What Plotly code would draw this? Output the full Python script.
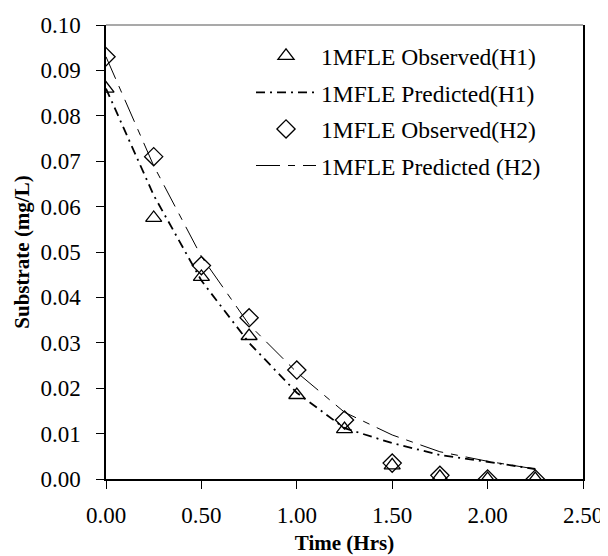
import plotly.graph_objects as go

time_obs = [0.0, 0.25, 0.5, 0.75, 1.0, 1.25, 1.5, 1.75, 2.0, 2.25]
obs_h1 = [0.086, 0.0575, 0.0445, 0.0315, 0.0185, 0.011, 0.003, 0.0005, 0.0, 0.0]
obs_h2 = [0.093, 0.071, 0.047, 0.0355, 0.024, 0.013, 0.0035, 0.0008, 0.0, 0.0]

time_pred = [0.0, 0.25, 0.5, 0.75, 1.0, 1.25, 1.5, 1.75, 2.0, 2.25]
pred_h1 = [0.086, 0.0625, 0.0437, 0.030, 0.019, 0.0112, 0.0079, 0.0053, 0.0038, 0.0022]
pred_h2 = [0.093, 0.069, 0.049, 0.034, 0.0235, 0.0147, 0.0097, 0.006, 0.0039, 0.0022]

x_ticks = [0.0, 0.5, 1.0, 1.5, 2.0, 2.5]
y_ticks = [0.0, 0.01, 0.02, 0.03, 0.04, 0.05, 0.06, 0.07, 0.08, 0.09, 0.10]

FONT = "Liberation Serif, Times New Roman, serif"

fig = go.Figure()
fig.add_trace(go.Scatter(
    x=time_obs, y=obs_h1, mode="markers", name="1MFLE Observed(H1)",
    legendgroup="a",
    marker=dict(symbol="triangle-up-open", size=14, color="black", line=dict(width=1.3, color="black")),
))
fig.add_trace(go.Scatter(
    x=time_pred, y=pred_h1, mode="lines", name="1MFLE Predicted(H1)",
    legendgroup="b",
    line=dict(color="black", width=1.8, dash="9px,5px,2px,5px"),
))
fig.add_trace(go.Scatter(
    x=time_obs, y=obs_h2, mode="markers", name="1MFLE Observed(H2)",
    legendgroup="c",
    marker=dict(symbol="diamond-open", size=14, color="black", line=dict(width=1.3, color="black")),
))
fig.add_trace(go.Scatter(
    x=time_pred, y=pred_h2, mode="lines", name="1MFLE Predicted (H2)",
    legendgroup="d",
    line=dict(color="black", width=1, dash="24px,8px,7px,8px"),
))

fig.update_layout(
    width=600, height=548,
    margin=dict(l=98, r=25, t=17, b=77, autoexpand=False),
    paper_bgcolor="white", plot_bgcolor="white",
    font=dict(family=FONT, size=23, color="black"),
    showlegend=True,
    legend=dict(
        x=0.304, y=0.98, xanchor="left", yanchor="top",
        bgcolor="rgba(0,0,0,0)", borderwidth=0,
        font=dict(family=FONT, size=23.5, color="black"),
        itemwidth=60, tracegroupgap=3, traceorder="grouped",
    ),
    xaxis=dict(
        range=[0, 2.5], tickvals=x_ticks, ticktext=["%.2f" % v for v in x_ticks],
        showgrid=False, zeroline=False,
        showline=True, linecolor="black", linewidth=1.5,
        ticks="outside", ticklen=8, tickcolor="black", tickwidth=1,
        ticklabelstandoff=7,
        tickfont=dict(family=FONT, size=23),
        title=dict(text="<b>Time (Hrs)</b>", font=dict(family=FONT, size=21), standoff=8),
    ),
    yaxis=dict(
        range=[0, 0.10], tickvals=y_ticks, ticktext=["%.2f" % v for v in y_ticks],
        showgrid=False, zeroline=False,
        showline=True, linecolor="black", linewidth=1.5, mirror=True,
        ticks="outside", ticklen=8, tickcolor="black", tickwidth=1,
        ticklabelstandoff=11,
        tickfont=dict(family=FONT, size=23),
        title=dict(text="<b>Substrate (mg/L)</b>", font=dict(family=FONT, size=21), standoff=5),
    ),
    shapes=[dict(type="line", xref="paper", yref="paper", x0=0, x1=1, y0=1, y1=1,
                 line=dict(color="#555555", width=1.2))],
)

fig.write_html("out.html")
